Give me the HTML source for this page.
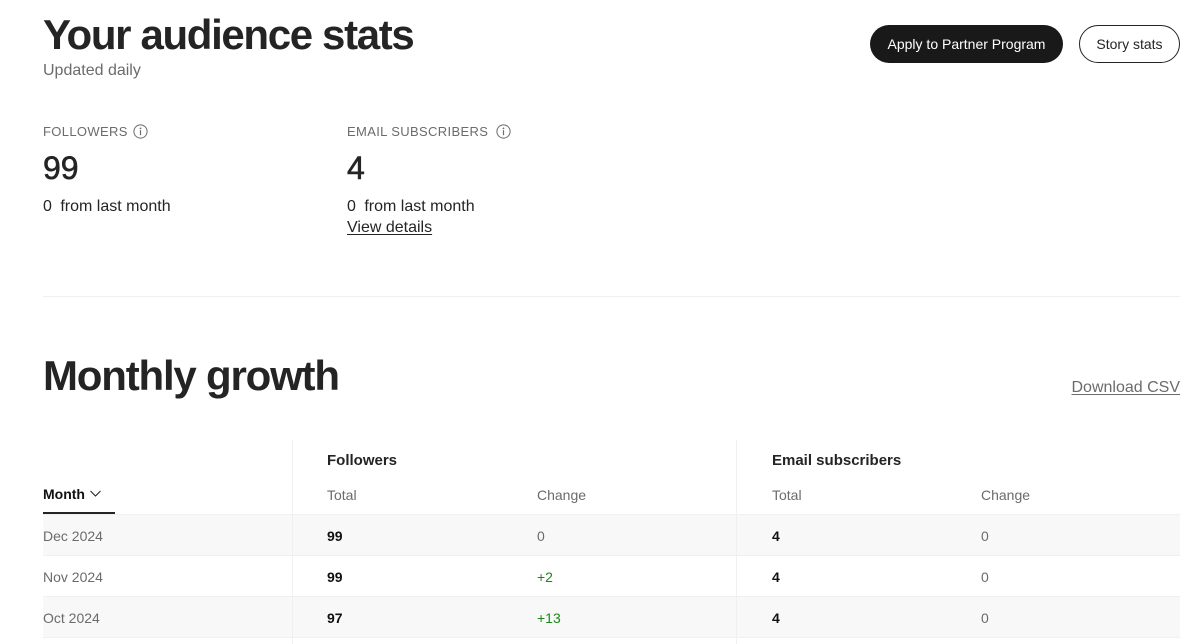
<!DOCTYPE html>
<html>
<head>
<meta charset="utf-8">
<style>
  html, body { margin:0; padding:0; background:#fff; }
  body { width:1199px; height:644px; overflow:hidden; position:relative;
         font-family:"Liberation Sans", Arial, sans-serif; color:#242424; }
  .a { position:absolute; white-space:nowrap; line-height:1; }
  .h1 { font-size:42px; font-weight:bold; letter-spacing:-1.35px; color:#242424; }
  .gray { color:#6b6b6b; }
  .btn { position:absolute; top:25px; height:38px; border-radius:19px; box-sizing:border-box;
         font-size:14px; line-height:38px; text-align:center; white-space:nowrap; }
  .lbl { font-size:13px; letter-spacing:0.35px; color:#6b6b6b; }
  .big { font-size:32px; color:#242424; -webkit-text-stroke:0.6px #242424; }
  .t16 { font-size:16px; }
  .t14 { font-size:14px; }
  .hline { position:absolute; height:1px; background:#f0f0f0; }
  .vline { position:absolute; width:1px; background:#f0f0f0; }
  .row { position:absolute; left:43px; width:1137px; height:40px; background:#f8f8f8; }
  .b { font-weight:bold; color:#111; }
  .g { color:#1a8917; }
</style>
</head>
<body>

<div class="a h1" style="left:43px; top:14px;">Your audience stats</div>
<div class="a t16 gray" style="left:43px; top:63px;">Updated daily</div>

<div class="btn" style="left:870px; width:193px; background:#191919; color:#fff;">Apply to Partner Program</div>
<div class="btn" style="left:1079px; width:101px; border:1px solid #242424; color:#242424; line-height:36px;">Story stats</div>

<!-- Followers stat -->
<div class="a lbl" style="left:43px; top:125px;">FOLLOWERS</div>
<svg class="a" style="left:133px; top:123.5px;" width="15" height="15" viewBox="0 0 15 15">
  <circle cx="7.5" cy="7.5" r="6.6" fill="none" stroke="#6b6b6b" stroke-width="1"/>
  <circle cx="7.5" cy="4.4" r="0.9" fill="#6b6b6b"/>
  <rect x="6.9" y="6.2" width="1.2" height="5" fill="#6b6b6b"/>
</svg>
<div class="a big" style="left:43px; top:152px;">99</div>
<div class="a t16" style="left:43px; top:199px;"><span style="margin-right:4px;">0</span> from last month</div>

<!-- Email stat -->
<div class="a lbl" style="left:347px; top:125px;">EMAIL SUBSCRIBERS</div>
<svg class="a" style="left:496px; top:123.5px;" width="15" height="15" viewBox="0 0 15 15">
  <circle cx="7.5" cy="7.5" r="6.6" fill="none" stroke="#6b6b6b" stroke-width="1"/>
  <circle cx="7.5" cy="4.4" r="0.9" fill="#6b6b6b"/>
  <rect x="6.9" y="6.2" width="1.2" height="5" fill="#6b6b6b"/>
</svg>
<div class="a big" style="left:347px; top:152px;">4</div>
<div class="a t16" style="left:347px; top:199px;"><span style="margin-right:4px;">0</span> from last month</div>
<div class="a t16" style="left:347px; top:220px; text-decoration:underline; text-underline-offset:2px;">View details</div>

<div class="hline" style="left:43px; top:296px; width:1137px;"></div>

<div class="a h1" style="left:43px; top:355px; letter-spacing:-1.2px;">Monthly growth</div>
<div class="a t16 gray" style="right:19px; top:380px; text-decoration:underline; text-underline-offset:2px;">Download CSV</div>

<!-- Table -->
<div class="row" style="top:515px;"></div>
<div class="row" style="top:597px;"></div>
<div class="hline" style="left:43px; top:514px; width:1137px;"></div>
<div class="hline" style="left:43px; top:555px; width:1137px;"></div>
<div class="hline" style="left:43px; top:596px; width:1137px;"></div>
<div class="hline" style="left:43px; top:637px; width:1137px;"></div>
<div class="vline" style="left:292px; top:440px; height:204px;"></div>
<div class="vline" style="left:736px; top:440px; height:204px;"></div>

<div class="a" style="left:327px; top:453px; font-size:15px; font-weight:bold; color:#242424;">Followers</div>
<div class="a" style="left:772px; top:453px; font-size:15px; font-weight:bold; color:#242424;">Email subscribers</div>

<div class="a t14" style="left:43px; top:486.5px; font-weight:bold; color:#111;">Month</div>
<svg class="a" style="left:89px; top:489px;" width="13" height="9" viewBox="0 0 13 9">
  <polyline points="1.5,2 6.5,7 11.5,2" fill="none" stroke="#242424" stroke-width="1.1"/>
</svg>
<div style="position:absolute; left:43px; top:512px; width:72px; height:1.5px; background:#242424;"></div>

<div class="a t14 gray" style="left:327px; top:488px;">Total</div>
<div class="a t14 gray" style="left:537px; top:488px;">Change</div>
<div class="a t14 gray" style="left:772px; top:488px;">Total</div>
<div class="a t14 gray" style="left:981px; top:488px;">Change</div>

<!-- Row Dec -->
<div class="a t14 gray" style="left:43px; top:529px;">Dec 2024</div>
<div class="a t14 b" style="left:327px; top:529px;">99</div>
<div class="a t14 gray" style="left:537px; top:529px;">0</div>
<div class="a t14 b" style="left:772px; top:529px;">4</div>
<div class="a t14 gray" style="left:981px; top:529px;">0</div>

<!-- Row Nov -->
<div class="a t14 gray" style="left:43px; top:570px;">Nov 2024</div>
<div class="a t14 b" style="left:327px; top:570px;">99</div>
<div class="a t14 g" style="left:537px; top:570px;">+2</div>
<div class="a t14 b" style="left:772px; top:570px;">4</div>
<div class="a t14 gray" style="left:981px; top:570px;">0</div>

<!-- Row Oct -->
<div class="a t14 gray" style="left:43px; top:611px;">Oct 2024</div>
<div class="a t14 b" style="left:327px; top:611px;">97</div>
<div class="a t14 g" style="left:537px; top:611px;">+13</div>
<div class="a t14 b" style="left:772px; top:611px;">4</div>
<div class="a t14 gray" style="left:981px; top:611px;">0</div>

</body>
</html>
